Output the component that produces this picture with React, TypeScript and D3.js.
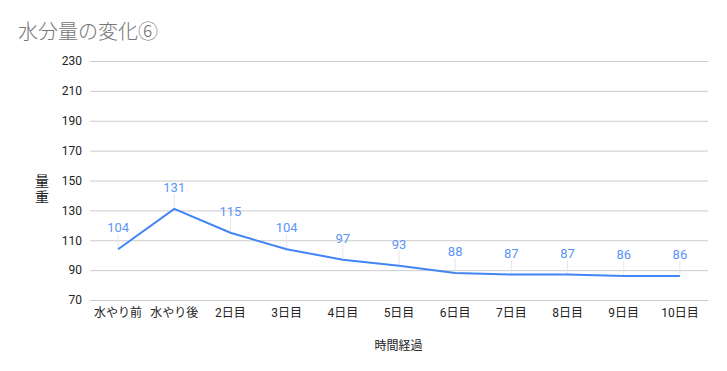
import React, { useRef, useEffect } from 'react';
import * as d3 from 'd3';

const categories = ['水やり前', '水やり後', '2日目', '3日目', '4日目', '5日目', '6日目', '7日目', '8日目', '9日目', '10日目'];
const weights = [104, 131, 115, 104, 97, 93, 88, 87, 87, 86, 86];
const yTicks = [70, 90, 110, 130, 150, 170, 190, 210, 230];

const W = 727;
const H = 371;

const draw = (svgRef: React.RefObject<SVGSVGElement | null>) => {
  const svgEl = d3.select(svgRef.current);
  svgEl.selectAll('*').remove();

  const margin = { left: 90, right: 19, top: 61, bottom: 71 };
  const font = 'Roboto, "Noto Sans CJK JP", sans-serif';

  const x = d3.scaleBand<string>()
    .domain(categories)
    .range([margin.left, W - margin.right]);

  const y = d3.scaleLinear()
    .domain([70, 230])
    .range([H - margin.bottom, margin.top]);

  const g = svgEl.append('g');

  // title
  g.append('text')
    .attr('x', 18)
    .attr('y', 39)
    .attr('font-family', '"Noto Sans CJK JP", sans-serif')
    .attr('font-size', 20)
    .attr('font-weight', 300)
    .attr('fill', '#757575')
    .text('水分量の変化⑥');

  // grid + y labels
  const yAxis = d3.axisLeft(y)
    .tickValues(yTicks)
    .tickSize(-(W - margin.left - margin.right))
    .tickPadding(8);

  g.append('g')
    .attr('transform', `translate(${margin.left},0)`)
    .call(yAxis)
    .call(s => s.select('.domain').remove())
    .call(s => s.selectAll('line').attr('stroke', '#cccccc'))
    .call(s => s.selectAll('text')
      .attr('font-family', font)
      .attr('font-size', 12)
      .attr('fill', '#222'));

  // x labels
  const xAxis = d3.axisBottom(x).tickSize(0).tickPadding(8);
  g.append('g')
    .attr('transform', `translate(0,${H - margin.bottom})`)
    .call(xAxis)
    .call(s => s.select('.domain').remove())
    .call(s => s.selectAll('text')
      .attr('font-family', font)
      .attr('font-size', 12)
      .attr('fill', '#222'));

  const cx = (c: string) => (x(c) as number) + x.bandwidth() / 2;

  // leader lines
  g.selectAll('.leader')
    .data(weights)
    .enter()
    .append('line')
    .attr('x1', (d, i) => cx(categories[i]))
    .attr('x2', (d, i) => cx(categories[i]))
    .attr('y1', d => y(d) - 15)
    .attr('y2', d => y(d))
    .attr('stroke', '#e6e6e6')
    .attr('stroke-width', 1);

  // line
  g.append('path')
    .datum(weights)
    .attr('fill', 'none')
    .attr('stroke', '#4285f4')
    .attr('stroke-width', 2)
    .attr('d', d3.line<number>()
      .x((d, i) => cx(categories[i]))
      .y(d => y(d)));

  // data labels
  g.selectAll('.lbl')
    .data(weights)
    .enter()
    .append('text')
    .attr('x', (d, i) => cx(categories[i]))
    .attr('y', d => y(d) - 17)
    .attr('text-anchor', 'middle')
    .attr('font-family', font)
    .attr('font-size', 13)
    .attr('fill', '#5b95f7')
    .text(d => d);

  // axis titles
  g.append('text')
    .attr('x', W / 2 + 35)
    .attr('y', 350)
    .attr('text-anchor', 'middle')
    .attr('font-family', '"Noto Sans CJK JP", sans-serif')
    .attr('font-size', 12)
    .attr('fill', '#222')
    .text('時間経過');

  const yt = g.append('text')
    .attr('font-family', '"Noto Sans CJK JP", sans-serif')
    .attr('font-size', 14)
    .attr('fill', '#222')
    .attr('text-anchor', 'middle');
  yt.append('tspan').attr('x', 42).attr('y', 186).text('量');
  yt.append('tspan').attr('x', 42).attr('y', 202).text('重');
};

export default function App() {
  const svgRef = useRef<SVGSVGElement>(null);

  useEffect(() => {
    draw(svgRef);
  }, []);

  return (
    <svg ref={svgRef} width={W} height={H}
      style={{ position: 'absolute', left: 0, top: 0, background: '#fff' }} />
  );
}
